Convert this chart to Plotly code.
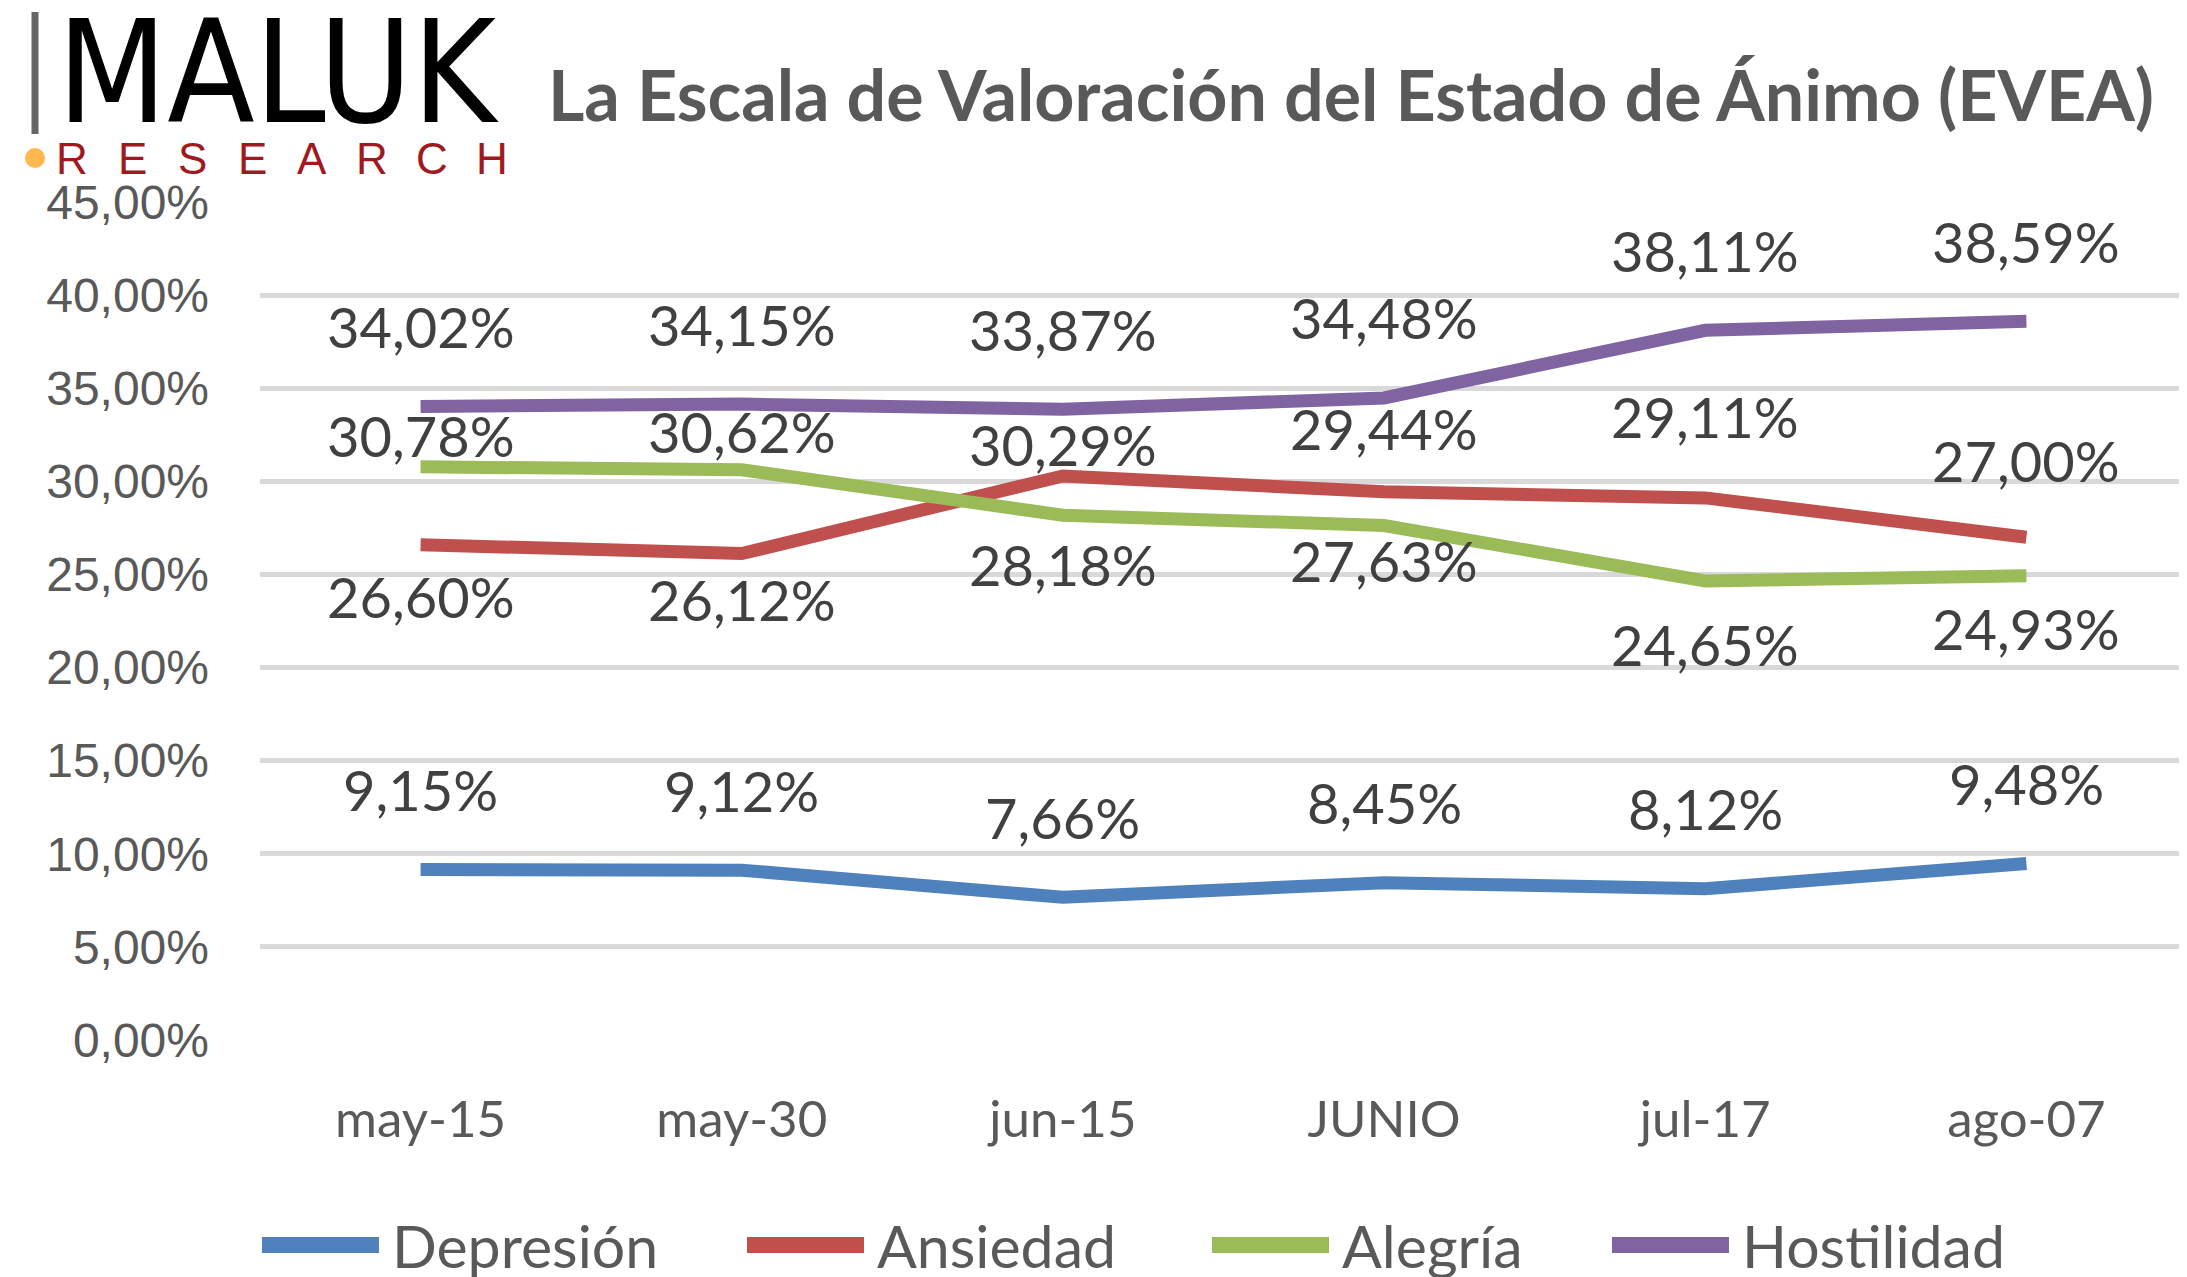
import plotly.graph_objects as go

# ---------------- data ----------------
categories = ["may-15", "may-30", "jun-15", "JUNIO", "jul-17", "ago-07"]
depresion = [9.15, 9.12, 7.66, 8.45, 8.12, 9.48]
ansiedad = [26.60, 26.12, 30.29, 29.44, 29.11, 27.00]
alegria = [30.78, 30.62, 28.18, 27.63, 24.65, 24.93]
hostilidad = [34.02, 34.15, 33.87, 34.48, 38.11, 38.59]
series_names = ["Depresión", "Ansiedad", "Alegría", "Hostilidad"]
y_ticks = [0, 5, 10, 15, 20, 25, 30, 35, 40, 45]
y_tick_labels = [f"{v:.2f}%".replace(".", ",") for v in y_ticks]
title_text = "La Escala de Valoración del Estado de Ánimo (EVEA)"
logo_text = "MALUK"
logo_sub = "RESEARCH"

# ---------------- styles ----------------
series_values = [depresion, ansiedad, alegria, hostilidad]
colors = ["#4F81BD", "#C0504D", "#9BBB59", "#8064A2"]
# vertical offset (px) of each data label from its point
label_shift = [
    [80, 80, 80, 80, 80, 80],
    [-52, -46, 31, 63, 81, 77],
    [31, 38, -49, -35, -64, -53],
    [80, 80, 80, 80, 80, 80],
]
FONT = "Lato, Carlito, Calibri, sans-serif"
ARIAL = "Liberation Sans, Arial, sans-serif"

OFF = 8  # default body margin of the html page
W, H = 2187 - OFF, 1277 - OFF
# plot area in reference (window) pixels: x 260..2187, y 202..1040
PX0, PX1, PY0, PY1 = 260, 2187, 202, 1040
L, R, T, B = PX0 - OFF, 0, PY0 - OFF, H - (PY1 - OFF)
PW, PH = PX1 - PX0, PY1 - PY0


def px_x(x):
    return (x - PX0) / PW


def px_y(y):
    return (PY1 - y) / PH


fig = go.Figure()
for name, vals, col in zip(series_names, series_values, colors):
    fig.add_trace(go.Scatter(
        x=categories, y=vals, mode="lines", name=name,
        line=dict(color=col, width=13), showlegend=False,
        hoverinfo="skip",
    ))

annotations = []
for vals, shifts in zip(series_values, label_shift):
    for c, v, s in zip(categories, vals, shifts):
        annotations.append(dict(
            x=c, y=v, xref="x", yref="y", text=f"{v:.2f}%".replace(".", ","),
            showarrow=False, yshift=s, xanchor="center", yanchor="middle",
            font=dict(family=FONT, size=56, color="#404040"),
        ))

# title
annotations.append(dict(
    x=px_x(546), y=px_y(94), xref="paper", yref="paper", text=f"<b>{title_text}</b>",
    showarrow=False, xanchor="left", yanchor="middle",
    font=dict(family=FONT, size=70, color="#595959"),
))
# logo
annotations.append(dict(
    x=px_x(55), y=px_y(72), xref="paper", yref="paper", text=logo_text,
    showarrow=False, xanchor="left", yanchor="middle",
    font=dict(family="DejaVu Sans Condensed, DejaVu Sans, sans-serif", size=142, color="#000000"),
))
for i, ch in enumerate(logo_sub):
    annotations.append(dict(
        x=px_x(72 + i * 60), y=px_y(158), xref="paper", yref="paper", text=ch,
        showarrow=False, xanchor="center", yanchor="middle",
        font=dict(family=ARIAL, size=44, color="#A0191E"),
    ))

shapes = [
    dict(type="line", xref="paper", yref="paper", x0=px_x(35), x1=px_x(35),
         y0=px_y(12), y1=px_y(134), line=dict(color="#666666", width=7)),
    dict(type="circle", xref="paper", yref="paper", x0=px_x(25), x1=px_x(45),
         y0=px_y(168), y1=px_y(148), fillcolor="#FFB84D", line=dict(width=0)),
]

# legend (manual, to match long Excel swatches)
leg_line_x = [254, 739, 1204, 1604]
leg_y = 1245
for name, col, x0 in zip(series_names, colors, leg_line_x):
    shapes.append(dict(type="line", xref="paper", yref="paper",
                       x0=px_x(x0 + 8), x1=px_x(x0 + 125), y0=px_y(leg_y), y1=px_y(leg_y),
                       line=dict(color=col, width=16)))
    annotations.append(dict(
        x=px_x(x0 + 136), y=px_y(leg_y), xref="paper", yref="paper", text=name,
        showarrow=False, xanchor="left", yanchor="middle",
        font=dict(family=FONT, size=59, color="#595959"),
    ))

fig.update_layout(
    width=W, height=H,
    margin=dict(l=L, r=R, t=T, b=B, pad=0),
    paper_bgcolor="white", plot_bgcolor="white",
    annotations=annotations, shapes=shapes,
    xaxis=dict(
        type="category", range=[-0.5, len(categories) - 0.5],
        showgrid=False, showline=False, zeroline=False, ticks="",
        tickfont=dict(family=FONT, size=51, color="#595959"),
        ticklabelstandoff=45,
    ),
    yaxis=dict(
        range=[0, 45], tickvals=y_ticks, ticktext=y_tick_labels,
        showgrid=True, gridcolor="#D9D9D9", gridwidth=5,
        zeroline=False, showline=False, ticks="",
        tickfont=dict(family=ARIAL, size=48, color="#595959"),
        ticklabelstandoff=50,
    ),
    showlegend=False,
)

fig.write_html("out.html")
